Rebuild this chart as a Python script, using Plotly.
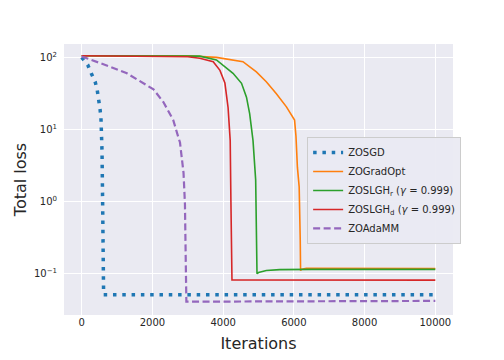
import plotly.graph_objects as go

# ---- data ----
sgd_x = [0, 100, 170, 270, 380, 440, 490, 520, 545, 560, 575, 592, 600, 606, 612, 620, 10000]
sgd_y = [100, 88, 79, 60, 46, 35, 26, 19, 14.4, 10, 5, 1, 0.4, 0.1, 0.06, 0.051, 0.051]

grad_x = [0, 3000, 3810, 4560, 4940, 5220, 5500, 5790, 6020, 6060, 6100, 6150, 6180, 6190, 6210, 6350, 10000]
grad_y = [105, 105, 100, 87, 63, 46, 31.6, 20.6, 13.5, 8, 3, 1.6, 0.3, 0.11, 0.115, 0.119, 0.118]

lghr_x = [0, 3000, 3340, 3810, 4280, 4520, 4660, 4750, 4845, 4920, 4940, 4958, 5000, 5220, 5600, 6500, 10000]
lghr_y = [105, 105, 104, 92, 60, 43.6, 28, 16.6, 7, 2, 0.32, 0.1, 0.104, 0.111, 0.114, 0.115, 0.115]

lghd_x = [0, 2000, 3000, 3340, 3720, 3910, 4050, 4140, 4200, 4220, 4235, 4250, 10000]
lghd_y = [105, 104, 102, 97, 87, 66, 44, 20, 7, 1, 0.2, 0.082, 0.0815]

adamm_x = [0, 340, 810, 1280, 1750, 2030, 2310, 2590, 2730, 2780, 2880, 2920, 2940, 2950, 2960, 10000]
adamm_y = [103, 90, 74, 60, 44, 36, 24, 13.5, 7.9, 6.6, 2.5, 0.93, 0.19, 0.05, 0.041, 0.042]

names = ["ZOSGD", "ZOGradOpt",
         "ZOSLGH<sub>r</sub> (<i>γ</i> = 0.999)",
         "ZOSLGH<sub>d</sub> (<i>γ</i> = 0.999)",
         "ZOAdaMM"]

x_ticks = [0, 2000, 4000, 6000, 8000, 10000]
x_labels = ["0", "2000", "4000", "6000", "8000", "10000"]
y_ticks = [0.1, 1, 10, 100]
y_labels = ["10<sup>−1</sup>", "10<sup>0</sup>", "10<sup>1</sup>", "10<sup>2</sup>"]

FONT = "DejaVu Sans"
TXT = "#262626"

fig = go.Figure()
fig.add_trace(go.Scatter(x=sgd_x, y=sgd_y, mode="lines", name=names[0],
                         line=dict(color="#1f77b4", width=3.5, dash="3.5px,5.8px")))
fig.add_trace(go.Scatter(x=grad_x, y=grad_y, mode="lines", name=names[1],
                         line=dict(color="#ff7f0e", width=1.6)))
fig.add_trace(go.Scatter(x=lghr_x, y=lghr_y, mode="lines", name=names[2],
                         line=dict(color="#2ca02c", width=1.6)))
fig.add_trace(go.Scatter(x=lghd_x, y=lghd_y, mode="lines", name=names[3],
                         line=dict(color="#d62728", width=1.6)))
fig.add_trace(go.Scatter(x=adamm_x, y=adamm_y, mode="lines", name=names[4],
                         line=dict(color="#9467bd", width=2.2, dash="7px,3.5px")))

fig.update_layout(
    width=504, height=360,
    margin=dict(l=64, r=51, t=44, b=45, autoexpand=False),
    paper_bgcolor="white", plot_bgcolor="#EAEAF2",
    font=dict(family=FONT, size=10, color=TXT),
    legend=dict(x=0.625, y=0.657, xanchor="left", yanchor="top", itemwidth=30,
                bgcolor="rgba(234,234,242,0.95)", bordercolor="#cccccc", borderwidth=1,
                font=dict(family=FONT, size=10, color=TXT)),
    xaxis=dict(range=[-500, 10500], tickvals=x_ticks, ticktext=x_labels, showgrid=True,
               gridcolor="white", gridwidth=1, zeroline=False, showline=False, ticks="",
               automargin=False,
               title=dict(text="Iterations", font=dict(family=FONT, size=16, color=TXT), standoff=10),
               tickfont=dict(family=FONT, size=10, color=TXT)),
    yaxis=dict(type="log", range=[-1.572, 2.185], tickvals=y_ticks, ticktext=y_labels,
               showgrid=True, gridcolor="white", gridwidth=1, zeroline=False,
               showline=False, ticks="", ticklabelstandoff=6, automargin=False,
               title=dict(text="Total loss", font=dict(family=FONT, size=16, color=TXT), standoff=3),
               tickfont=dict(family=FONT, size=10, color=TXT)),
)

fig.write_html("out.html", config={"displayModeBar": False},
               post_script="document.body.style.margin='0';")
